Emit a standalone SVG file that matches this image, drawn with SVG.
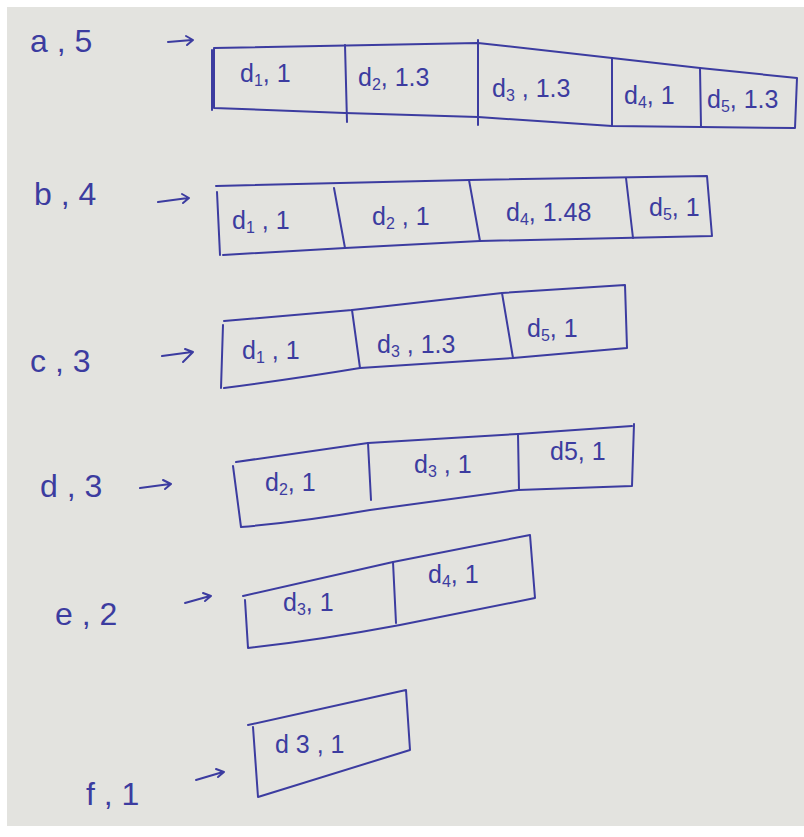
<svg xmlns="http://www.w3.org/2000/svg" width="804" height="837" viewBox="0 0 804 837">
<style>
.ink{fill:none;stroke:#3c3ca0;stroke-width:2;stroke-linecap:round;stroke-linejoin:round}
.lbl{font-family:"Liberation Sans","DejaVu Sans",sans-serif;font-size:32px;fill:#3c3ca0}
.cell{font-family:"Liberation Sans","DejaVu Sans",sans-serif;font-size:25px;fill:#3c3ca0}
.sub{font-size:16px}
</style>
<rect x="0" y="0" width="804" height="837" fill="#ffffff"/>
<rect x="7" y="7" width="797" height="819" fill="#e3e3df"/>

<g id="connectors" class="ink">
<path d="M168 42 L192 40 M186 36 L193 40 L187 45"/>
<path d="M158 202 L188 198 M182 194 L189 198 L183 203"/>
<path d="M162 356 L192 352 M185 349 L193 352 L183 362"/>
<path d="M140 488 L170 484 M163 480 L171 484 L165 489"/>
<path d="M185 603 L210 596 M203 593 L211 596 L205 601"/>
<path d="M196 780 L223 772 M216 769 L224 772 L218 777"/>
</g>

<g id="row-a">
<text class="lbl" x="30" y="52">a , 5</text>
<path class="ink" d="M214 48 L478 43 L612 58 L700 68 L797 78 L795 128 L700 127 L612 126 L478 117 L345 113 L214 108 Z"/>
<path class="ink" d="M212 50 L212 110"/>
<path class="ink" d="M345 45 L347 122 M478 40 L478 125 M612 58 L612 126 M700 68 L701 127"/>
<text class="cell" x="240" y="82">d<tspan class="sub" dy="4">1</tspan><tspan dy="-4">, 1</tspan></text>
<text class="cell" x="358" y="86">d<tspan class="sub" dy="4">2</tspan><tspan dy="-4">, 1.3</tspan></text>
<text class="cell" x="492" y="97">d<tspan class="sub" dy="4">3</tspan><tspan dy="-4"> , 1.3</tspan></text>
<text class="cell" x="624" y="104">d<tspan class="sub" dy="4">4</tspan><tspan dy="-4">, 1</tspan></text>
<text class="cell" x="707" y="108">d<tspan class="sub" dy="4">5</tspan><tspan dy="-4">, 1.3</tspan></text>
</g>

<g id="row-b">
<text class="lbl" x="34" y="205">b , 4</text>
<path class="ink" d="M216 186 L469 180 L707 176 L712 236 L480 241 L345 248 L223 255"/>
<path class="ink" d="M217 192 L220 255"/>
<path class="ink" d="M334 188 L345 248 M469 180 L480 241 M626 178 L633 238"/>
<text class="cell" x="232" y="229">d<tspan class="sub" dy="4">1</tspan><tspan dy="-4"> , 1</tspan></text>
<text class="cell" x="372" y="225">d<tspan class="sub" dy="4">2</tspan><tspan dy="-4"> , 1</tspan></text>
<text class="cell" x="506" y="221">d<tspan class="sub" dy="4">4</tspan><tspan dy="-4">, 1.48</tspan></text>
<text class="cell" x="649" y="216">d<tspan class="sub" dy="4">5</tspan><tspan dy="-4">, 1</tspan></text>
</g>

<g id="row-c">
<text class="lbl" x="30" y="372">c , 3</text>
<path class="ink" d="M224 321 L352 310 L502 293 L625 285 L627 348 L513 358 L360 368 Q300 378 224 388"/>
<path class="ink" d="M223 325 L221 388"/>
<path class="ink" d="M352 310 L360 368 M502 293 L513 358"/>
<text class="cell" x="242" y="359">d<tspan class="sub" dy="4">1</tspan><tspan dy="-4"> , 1</tspan></text>
<text class="cell" x="377" y="353">d<tspan class="sub" dy="4">3</tspan><tspan dy="-4"> , 1.3</tspan></text>
<text class="cell" x="527" y="337">d<tspan class="sub" dy="4">5</tspan><tspan dy="-4">, 1</tspan></text>
</g>

<g id="row-d">
<text class="lbl" x="40" y="497">d , 3</text>
<path class="ink" d="M236 462 L368 443 L518 434 L632 426"/>
<path class="ink" d="M634 424 L632 486 L518 490 L370 510 Q300 522 241 527 L233 466"/>
<path class="ink" d="M368 443 L371 500 M518 434 L519 490"/>
<text class="cell" x="265" y="491">d<tspan class="sub" dy="4">2</tspan><tspan dy="-4">, 1</tspan></text>
<text class="cell" x="414" y="473">d<tspan class="sub" dy="4">3</tspan><tspan dy="-4"> , 1</tspan></text>
<text class="cell" x="550" y="460">d5, 1</text>
</g>

<g id="row-e">
<text class="lbl" x="55" y="625">e , 2</text>
<path class="ink" d="M243 596 L393 562 L530 535 L535 598 L400 625 Q320 640 248 648 L245 600"/>
<path class="ink" d="M393 562 L396 623"/>
<text class="cell" x="283" y="611">d<tspan class="sub" dy="4">3</tspan><tspan dy="-4">, 1</tspan></text>
<text class="cell" x="428" y="583">d<tspan class="sub" dy="4">4</tspan><tspan dy="-4">, 1</tspan></text>
</g>

<g id="row-f">
<text class="lbl" x="86" y="805">f , 1</text>
<path class="ink" d="M248 725 L406 690 L410 750 L258 797 L253 727"/>
<text class="cell" x="275" y="753">d 3 , 1</text>
</g>
</svg>
